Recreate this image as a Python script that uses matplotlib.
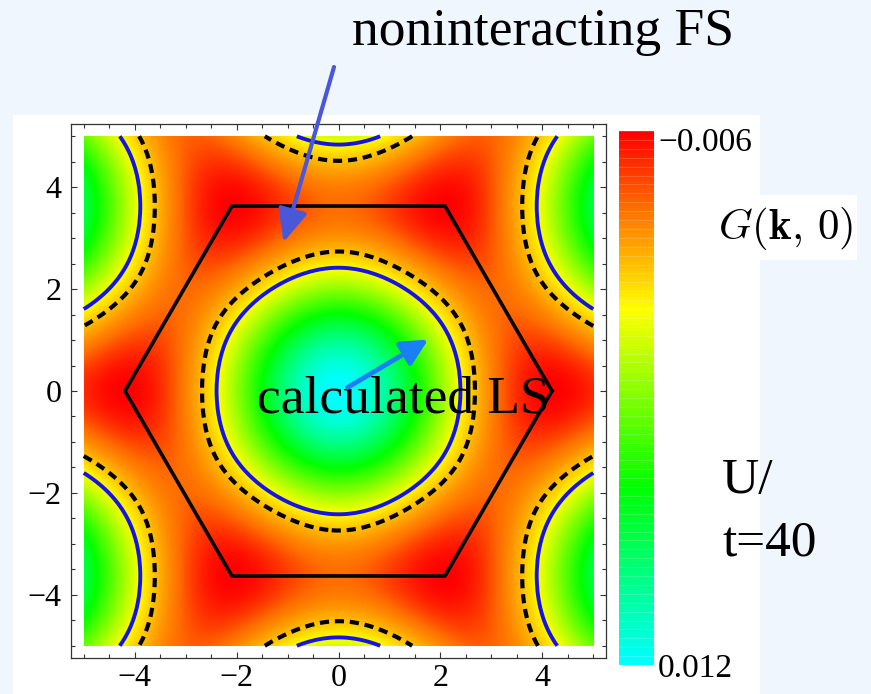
import numpy as np
import matplotlib.pyplot as plt
from matplotlib.colors import LinearSegmentedColormap
from matplotlib.patches import Rectangle
from matplotlib.ticker import MultipleLocator

plt.rcParams['font.family'] = ['Liberation Serif', 'DejaVu Serif']
plt.rcParams['mathtext.fontset'] = 'cm'

# triangular lattice, nearest-neighbour hopping t, U/t = 40
t_hop = 1.0
u_over_t = 40
k_lim = (-5.0, 5.0)
n_k = 401

# G(k,0) against band energy: Gamma (bottom), LS, M point, K (top)
eps_band = [-6.0, 0.0, 2.0, 3.0]
g_band = [0.012, 0.0, -0.0034, -0.006]
g_range = [-0.006, 0.012]

# Luttinger surface: G = 0 ; noninteracting Fermi surface: eps = eps_F
ls_level = 0.0
eps_fermi = 0.87

# first Brillouin zone
bz_kx = [4.19, 2.09, -2.09, -4.19, -2.09, 2.09, 4.19]
bz_ky = [0.0, 3.63, 3.63, 0.0, -3.63, -3.63, 0.0]

ticks = [-4, -2, 0, 2, 4]

kx = np.linspace(k_lim[0], k_lim[1], n_k)
KX, KY = np.meshgrid(kx, kx)
eps = -2 * t_hop * (np.cos(KX) + 2 * np.cos(KX / 2) * np.cos(np.sqrt(3) * KY / 2))
g = np.interp(eps, eps_band, g_band)

cmap = LinearSegmentedColormap.from_list('hue', ['#ff0000', '#ffff00', '#00ff00', '#00ffff'])

W, H = 871, 694
fig = plt.figure(figsize=(W / 100, H / 100), dpi=100, facecolor='#eff6fd')
fig.add_artist(Rectangle((13 / W, 0), 747 / W, 579 / H, transform=fig.transFigure,
                         facecolor='white', edgecolor='none', zorder=-1))
fig.add_artist(Rectangle((740 / W, 1 - 260 / H), 117 / W, 65 / H, transform=fig.transFigure,
                         facecolor='white', edgecolor='none', zorder=-1))

ax = fig.add_axes([71 / W, 1 - 658 / H, 535 / W, 534 / H])
im = ax.imshow(g, extent=[k_lim[0], k_lim[1], k_lim[0], k_lim[1]], origin='lower',
               cmap=cmap, vmin=g_range[0], vmax=g_range[1], interpolation='bilinear')
ax.contour(KX, KY, g, levels=[ls_level], colors='#1414e6', linewidths=2.8)
ax.contour(KX, KY, eps, levels=[eps_fermi], colors='black', linewidths=3.0,
           linestyles=[(0, (2.2, 1.4))])
ax.plot(bz_kx, bz_ky, color='black', lw=2.6)
ax.set_xlim(-5.25, 5.25)
ax.set_ylim(-5.24, 5.24)
ax.set_aspect('auto')

ax.set_xticks(ticks)
ax.set_yticks(ticks)
ax.xaxis.set_minor_locator(MultipleLocator(0.5))
ax.yaxis.set_minor_locator(MultipleLocator(0.5))
ax.tick_params(which='both', direction='in', top=True, right=True, color='#333333')
ax.tick_params(which='major', length=4, width=0.8, labelsize=23)
ax.tick_params(axis='y', which='major', pad=7)
ax.tick_params(axis='x', which='major', pad=4)
ax.tick_params(which='minor', length=3, width=0.8)
for s in ax.spines.values():
    s.set_color('#333333')
    s.set_linewidth(0.9)

# colour scale
cax = fig.add_axes([619 / W, 1 - 665 / H, 35 / W, 534 / H])
cb = fig.colorbar(im, cax=cax)
cb.outline.set_visible(False)
cax.invert_yaxis()
cax.set_yticks([])
for v in np.linspace(g_range[0], g_range[1], 61):
    cax.axhline(v, color='white', lw=0.5, alpha=0.25)
fig.text(658 / W, 1 - 143 / H, '\u22120.006', va='center', fontsize=24)
fig.text(658 / W, 1 - 669 / H, '0.012', va='center', fontsize=24)
fig.text(718 / W, 1 - 228 / H, r'$G(\mathbf{k},\,0)$', va='center', fontsize=31)
fig.text(722 / W, 1 - 493 / H, 'U/', va='baseline', fontsize=37)
fig.text(722 / W, 1 - 555 / H, 't=%d' % u_over_t, va='baseline', fontsize=37)

# annotations
fig.text(352 / W, 1 - 45 / H, 'noninteracting FS', va='baseline', fontsize=38.5)
ax.annotate('', xy=(-1.08, 2.92), xytext=(334 / W, 1 - 67 / H), textcoords='figure fraction',
            arrowprops=dict(arrowstyle='-|>,head_length=1.0,head_width=0.45', color='#4a57d8',
                            lw=3, mutation_scale=20, shrinkA=0, shrinkB=0),
            annotation_clip=False)
ax.text(-1.59, -0.42, 'calculated LS', va='baseline', fontsize=38.5)
ax.annotate('', xy=(1.76, 1.01), xytext=(0.18, 0.07),
            arrowprops=dict(arrowstyle='-|>,head_length=0.8,head_width=0.4', color='#1a7ff5',
                            lw=3.5, mutation_scale=20, shrinkA=0, shrinkB=0))

fig.savefig('out.png', dpi=100, facecolor=fig.get_facecolor())
